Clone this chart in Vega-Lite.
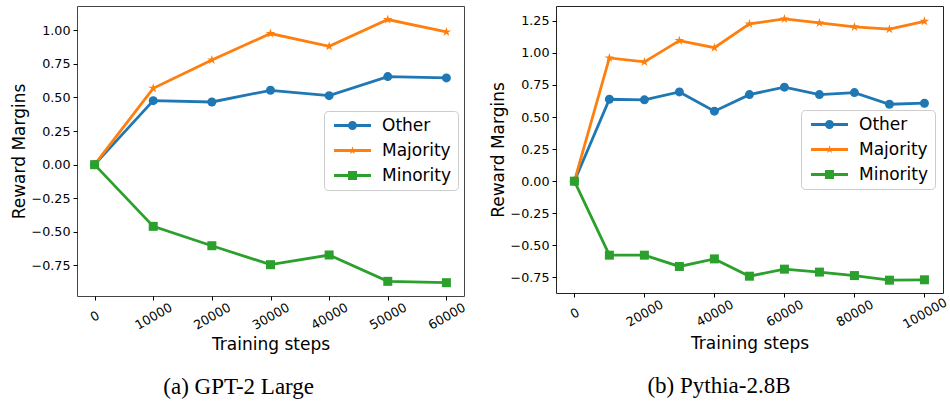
{
  "$schema": "https://vega.github.io/schema/vega-lite/v6.json",
  "padding": {"left": 9, "top": 5, "right": 0, "bottom": 0},
  "autosize": {"type": "pad"},
  "background": "white",
  "config": {
    "font": "DejaVu Sans",
    "view": {"strokeWidth": 1},
    "axis": {
      "labelFont": "DejaVu Sans", "labelFontSize": 12.7, "labelColor": "black",
      "titleFont": "DejaVu Sans", "titleFontSize": 17, "titleFontWeight": "normal", "titleColor": "black",
      "tickColor": "black", "tickSize": 4, "tickWidth": 1, "grid": false, "domain": false, "labelPadding": 3
    },
    "legend": {
      "title": null, "orient": "none",
      "fillColor": "rgba(255,255,255,0.8)", "strokeColor": "#cccccc", "cornerRadius": 4, "padding": 6,
      "labelFont": "DejaVu Sans", "labelFontSize": 17, "labelColor": "black", "labelOffset": 35,
      "symbolSize": 81, "rowPadding": 7, "symbolStrokeWidth": 0
    },
    "title": {"font": "Liberation Serif", "fontSize": 23, "fontWeight": "normal", "color": "black"}
  },
  "spacing": 20,
  "resolve": {"scale": {"color": "independent"}, "legend": {"color": "independent"}},
  "hconcat": [
    {
      "width": 387, "height": 290,
      "view": {"stroke": "#444"},
      "title": {"text": "(a) GPT-2 Large", "orient": "bottom", "anchor": "middle", "frame": "bounds", "offset": 23},
      "data": {"values": [
        {"step": 0, "margin": 0, "series": "Other"},
        {"step": 10000, "margin": 0.476, "series": "Other"},
        {"step": 20000, "margin": 0.466, "series": "Other"},
        {"step": 30000, "margin": 0.553, "series": "Other"},
        {"step": 40000, "margin": 0.513, "series": "Other"},
        {"step": 50000, "margin": 0.655, "series": "Other"},
        {"step": 60000, "margin": 0.645, "series": "Other"},
        {"step": 0, "margin": 0, "series": "Majority"},
        {"step": 10000, "margin": 0.568, "series": "Majority"},
        {"step": 20000, "margin": 0.779, "series": "Majority"},
        {"step": 30000, "margin": 0.975, "series": "Majority"},
        {"step": 40000, "margin": 0.880, "series": "Majority"},
        {"step": 50000, "margin": 1.079, "series": "Majority"},
        {"step": 60000, "margin": 0.987, "series": "Majority"},
        {"step": 0, "margin": 0, "series": "Minority"},
        {"step": 10000, "margin": -0.459, "series": "Minority"},
        {"step": 20000, "margin": -0.603, "series": "Minority"},
        {"step": 30000, "margin": -0.744, "series": "Minority"},
        {"step": 40000, "margin": -0.672, "series": "Minority"},
        {"step": 50000, "margin": -0.868, "series": "Minority"},
        {"step": 60000, "margin": -0.878, "series": "Minority"}
      ]},
      "encoding": {
        "x": {"field": "step", "type": "quantitative",
          "scale": {"domain": [-3000, 63000], "nice": false, "zero": false},
          "axis": {"values": [0, 10000, 20000, 30000, 40000, 50000, 60000], "format": "d", "labelAngle": -30, "labelAlign": "center", "labelBaseline": "middle", "labelPadding": 16, "title": "Training steps", "titlePadding": 5}},
        "y": {"field": "margin", "type": "quantitative",
          "scale": {"domain": [-0.977, 1.18], "nice": false, "zero": false},
          "axis": {"values": [-0.75, -0.5, -0.25, 0, 0.25, 0.5, 0.75, 1.0], "format": ".2f", "title": "Reward Margins", "titlePadding": 3}},
        "color": {"field": "series", "type": "nominal",
          "scale": {"domain": ["Other", "Majority", "Minority"], "range": ["#1f77b4", "#ff7f0e", "#2ca02c"]},
          "legend": {
            "legendX": 247, "legendY": 105,
            "encode": {"symbols": {"update": {
              "shape": {"signal": "datum.value === 'Other' ? 'M-1,-0.31H7.22V0.31H-1Z M4.11,0A1,1,0,1,1,2.11,0A1,1,0,1,1,4.11,0Z' : datum.value === 'Majority' ? 'M-1,-0.31H7.22V0.31H-1Z M3.11,-0.95L3.324,-0.294L4.013,-0.294L3.455,0.112L3.669,0.769L3.11,0.363L2.551,0.769L2.765,0.112L2.207,-0.294L2.896,-0.294Z' : 'M-1,-0.31H7.22V0.31H-1Z M2.11,-1H4.11V1H2.11Z'"},
              "fill": {"signal": "datum.value === 'Other' ? '#1f77b4' : datum.value === 'Majority' ? '#ff7f0e' : '#2ca02c'"},
              "fillOpacity": {"value": 1},
              "strokeWidth": {"value": 0}
            }}}
          }}
      },
      "layer": [
        {"mark": {"type": "line", "strokeWidth": 2.8}},
        {"transform": [{"filter": "datum.series === 'Other'"}],
         "mark": {"type": "point", "shape": "circle", "filled": true, "opacity": 1, "size": 81, "strokeWidth": 0}},
        {"transform": [{"filter": "datum.series === 'Majority'"}],
         "mark": {"type": "point", "shape": "M0,-1.1L0.2475,-0.34L1.046,-0.34L0.399,0.13L0.647,0.89L0,0.42L-0.647,0.89L-0.399,0.13L-1.046,-0.34L-0.2475,-0.34Z", "filled": true, "opacity": 1, "size": 81, "strokeWidth": 0}},
        {"transform": [{"filter": "datum.series === 'Minority'"}],
         "mark": {"type": "point", "shape": "square", "filled": true, "opacity": 1, "size": 81, "strokeWidth": 0}}
      ]
    },
    {
      "width": 387, "height": 287,
      "view": {"stroke": "#222"},
      "title": {"text": "(b) Pythia-2.8B", "orient": "bottom", "anchor": "middle", "frame": "bounds", "offset": 23},
      "data": {"values": [
        {"step": 0, "margin": 0, "series": "Other"},
        {"step": 10000, "margin": 0.639, "series": "Other"},
        {"step": 20000, "margin": 0.634, "series": "Other"},
        {"step": 30000, "margin": 0.696, "series": "Other"},
        {"step": 40000, "margin": 0.546, "series": "Other"},
        {"step": 50000, "margin": 0.675, "series": "Other"},
        {"step": 60000, "margin": 0.733, "series": "Other"},
        {"step": 70000, "margin": 0.675, "series": "Other"},
        {"step": 80000, "margin": 0.691, "series": "Other"},
        {"step": 90000, "margin": 0.600, "series": "Other"},
        {"step": 100000, "margin": 0.608, "series": "Other"},
        {"step": 0, "margin": 0, "series": "Majority"},
        {"step": 10000, "margin": 0.961, "series": "Majority"},
        {"step": 20000, "margin": 0.930, "series": "Majority"},
        {"step": 30000, "margin": 1.096, "series": "Majority"},
        {"step": 40000, "margin": 1.041, "series": "Majority"},
        {"step": 50000, "margin": 1.226, "series": "Majority"},
        {"step": 60000, "margin": 1.265, "series": "Majority"},
        {"step": 70000, "margin": 1.234, "series": "Majority"},
        {"step": 80000, "margin": 1.203, "series": "Majority"},
        {"step": 90000, "margin": 1.185, "series": "Majority"},
        {"step": 100000, "margin": 1.247, "series": "Majority"},
        {"step": 0, "margin": 0, "series": "Minority"},
        {"step": 10000, "margin": -0.577, "series": "Minority"},
        {"step": 20000, "margin": -0.577, "series": "Minority"},
        {"step": 30000, "margin": -0.665, "series": "Minority"},
        {"step": 40000, "margin": -0.606, "series": "Minority"},
        {"step": 50000, "margin": -0.741, "series": "Minority"},
        {"step": 60000, "margin": -0.686, "series": "Minority"},
        {"step": 70000, "margin": -0.709, "series": "Minority"},
        {"step": 80000, "margin": -0.736, "series": "Minority"},
        {"step": 90000, "margin": -0.772, "series": "Minority"},
        {"step": 100000, "margin": -0.769, "series": "Minority"}
      ]},
      "encoding": {
        "x": {"field": "step", "type": "quantitative",
          "scale": {"domain": [-5250, 105300], "nice": false, "zero": false},
          "axis": {"values": [0, 20000, 40000, 60000, 80000, 100000], "format": "d", "labelAngle": -30, "labelAlign": "center", "labelBaseline": "middle", "labelPadding": 16, "title": "Training steps", "titlePadding": 5}},
        "y": {"field": "margin", "type": "quantitative",
          "scale": {"domain": [-0.872, 1.366], "nice": false, "zero": false},
          "axis": {"values": [-0.75, -0.5, -0.25, 0, 0.25, 0.5, 0.75, 1.0, 1.25], "format": ".2f", "title": "Reward Margins", "titlePadding": 3}},
        "color": {"field": "series", "type": "nominal",
          "scale": {"domain": ["Other", "Majority", "Minority"], "range": ["#1f77b4", "#ff7f0e", "#2ca02c"]},
          "legend": {
            "legendX": 245, "legendY": 104,
            "encode": {"symbols": {"update": {
              "shape": {"signal": "datum.value === 'Other' ? 'M-1,-0.31H7.22V0.31H-1Z M4.11,0A1,1,0,1,1,2.11,0A1,1,0,1,1,4.11,0Z' : datum.value === 'Majority' ? 'M-1,-0.31H7.22V0.31H-1Z M3.11,-0.95L3.324,-0.294L4.013,-0.294L3.455,0.112L3.669,0.769L3.11,0.363L2.551,0.769L2.765,0.112L2.207,-0.294L2.896,-0.294Z' : 'M-1,-0.31H7.22V0.31H-1Z M2.11,-1H4.11V1H2.11Z'"},
              "fill": {"signal": "datum.value === 'Other' ? '#1f77b4' : datum.value === 'Majority' ? '#ff7f0e' : '#2ca02c'"},
              "fillOpacity": {"value": 1},
              "strokeWidth": {"value": 0}
            }}}
          }}
      },
      "layer": [
        {"mark": {"type": "line", "strokeWidth": 2.8}},
        {"transform": [{"filter": "datum.series === 'Other'"}],
         "mark": {"type": "point", "shape": "circle", "filled": true, "opacity": 1, "size": 81, "strokeWidth": 0}},
        {"transform": [{"filter": "datum.series === 'Majority'"}],
         "mark": {"type": "point", "shape": "M0,-1.1L0.2475,-0.34L1.046,-0.34L0.399,0.13L0.647,0.89L0,0.42L-0.647,0.89L-0.399,0.13L-1.046,-0.34L-0.2475,-0.34Z", "filled": true, "opacity": 1, "size": 81, "strokeWidth": 0}},
        {"transform": [{"filter": "datum.series === 'Minority'"}],
         "mark": {"type": "point", "shape": "square", "filled": true, "opacity": 1, "size": 81, "strokeWidth": 0}}
      ]
    }
  ]
}
